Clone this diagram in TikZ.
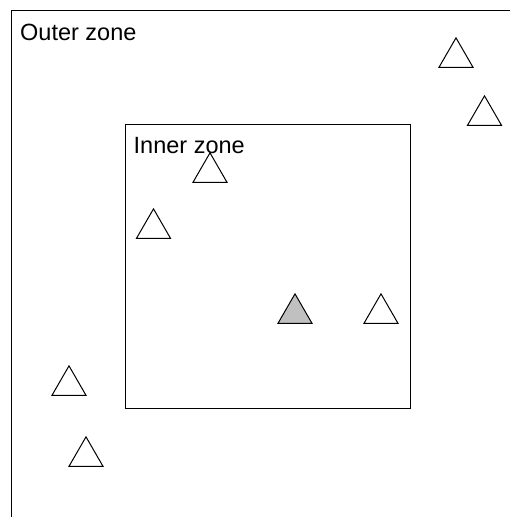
\documentclass[tikz,border=0pt]{standalone}
\usepackage{fontspec}
\setmainfont{Liberation Sans}
\usepackage{xcolor}
\usepackage{tikz}
\usetikzlibrary{shapes.geometric}
\definecolor{markgrey}{RGB}{192,192,192}

\begin{document}
\begin{tikzpicture}[x=1pt,y=-1pt,
  zone/.style={draw,line width=0.9pt},
  label/.style={anchor=base west,inner sep=0pt,
                font=\fontsize{23.5}{28}\selectfont},
  marker/.style={draw,line width=1pt,regular polygon,regular polygon sides=3,
                 minimum size=39.3pt,inner sep=0pt,fill=white},
  hit/.style={marker,fill=markgrey}]
\useasboundingbox (0,0) rectangle (510,517);
\clip (0,0) rectangle (510,517);
\fill[white] (0,0) rectangle (510,517);
% zones
\draw[zone] (11.5,10) rectangle (530,540);
\draw[zone] (125.5,124.5) rectangle (410.5,408.5);
\node[label] (outer) at (20,40) {Outer zone};
\node[label] (inner) at (133.5,153) {Inner zone};
% markers
\node[marker] (m1) at (456,57.5) {};
\node[marker] (m2) at (484.5,115.5) {};
\node[marker] (m3) at (210,172.5) {};
\node[marker] (m4) at (153.5,228.5) {};
\node[hit]    (m5) at (295,313.5) {};
\node[marker] (m6) at (381,313.5) {};
\node[marker] (m7) at (69,385.5) {};
\node[marker] (m8) at (86,456.5) {};
\end{tikzpicture}
\end{document}
